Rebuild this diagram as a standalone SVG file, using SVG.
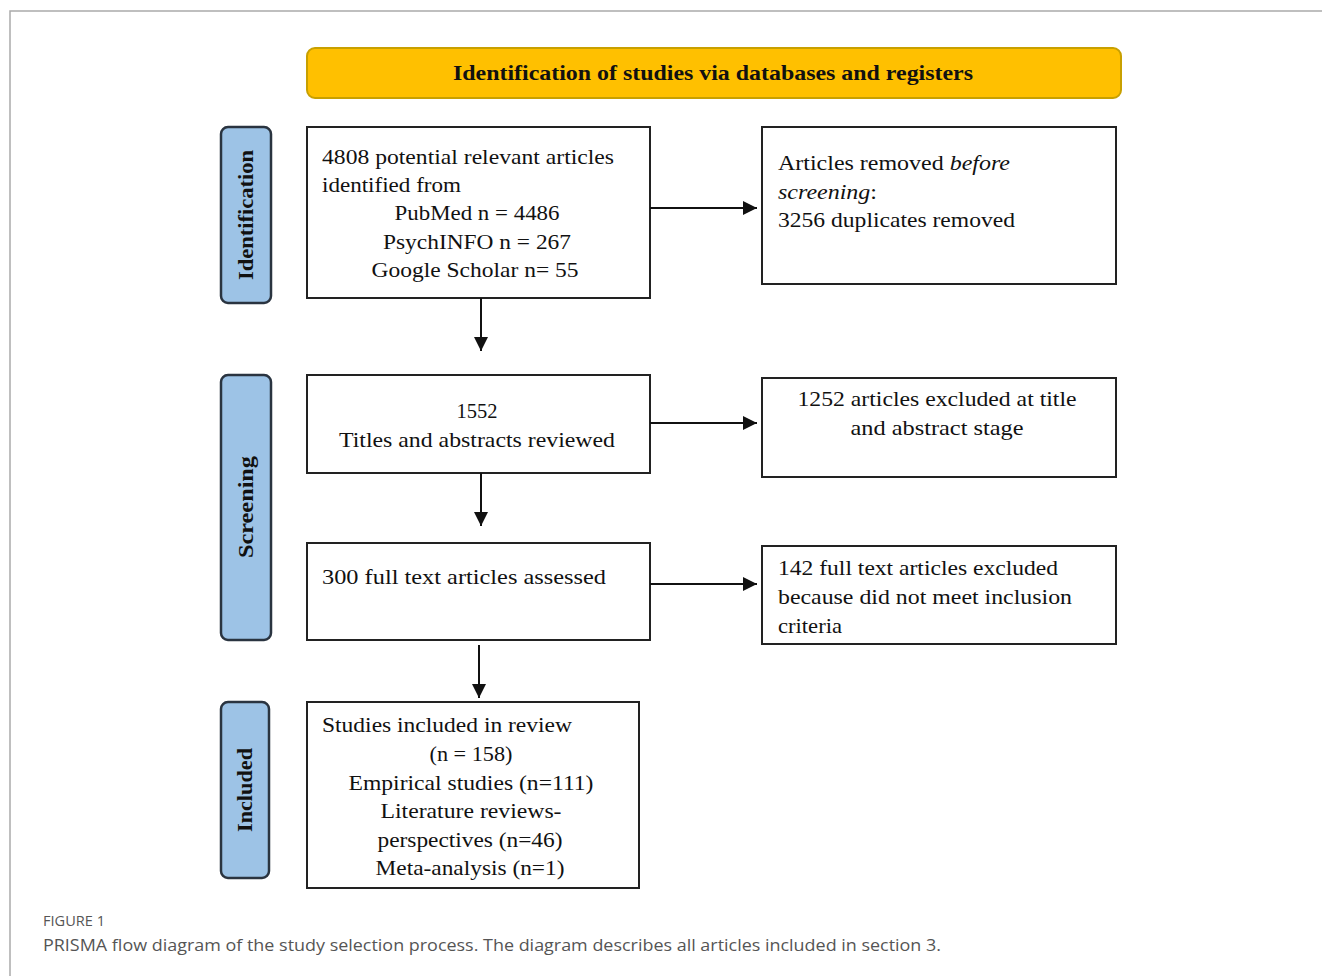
<svg xmlns="http://www.w3.org/2000/svg" width="1322" height="976" viewBox="0 0 1322 976">
<defs>
<style>
.box{fill:#fff;stroke:#222;stroke-width:2}
.side{fill:#9DC3E6;stroke:#2a3440;stroke-width:2.5}
.t{font-family:"Liberation Serif","Times New Roman",serif;font-size:22px;fill:#111}
.c{text-anchor:middle}
.sl{font-family:"Liberation Serif","Times New Roman",serif;font-size:21px;font-weight:bold;fill:#111;text-anchor:middle}
.conn{stroke:#111;stroke-width:2;fill:none}
</style>
<marker id="ah" viewBox="0 0 10 10" refX="10" refY="5" markerWidth="14" markerHeight="14" markerUnits="userSpaceOnUse" orient="auto">
<path d="M0,0 L10,5 L0,10 z" fill="#111"/>
</marker>
</defs>
<rect width="1322" height="976" fill="#fff"/>
<path d="M10,976 V11 H1322" fill="none" stroke="#aaa" stroke-width="1.5"/>

<g id="header">
<rect x="307" y="48" width="814" height="50" rx="8" fill="#FFC000" stroke="#C8A000" stroke-width="2"/>
<text x="713" y="80" class="t c" font-weight="bold" font-size="20" textLength="520" lengthAdjust="spacingAndGlyphs">Identification  of studies via databases and registers</text>
</g>

<g id="lbl-identification">
<rect x="221" y="127" width="50" height="176" rx="7" class="side"/>
<text transform="translate(253,215) rotate(-90)" class="sl" textLength="130" lengthAdjust="spacingAndGlyphs">Identification</text>
</g>
<g id="lbl-screening">
<rect x="221" y="375" width="50" height="265" rx="7" class="side"/>
<text transform="translate(253,507) rotate(-90)" class="sl" textLength="102" lengthAdjust="spacingAndGlyphs">Screening</text>
</g>
<g id="lbl-included">
<rect x="221" y="702" width="48" height="176" rx="7" class="side"/>
<text transform="translate(252,790) rotate(-90)" class="sl" textLength="84" lengthAdjust="spacingAndGlyphs">Included</text>
</g>

<g id="n-identified">
<rect x="307" y="127" width="343" height="171" class="box"/>
<text x="322" y="164" class="t" textLength="292" lengthAdjust="spacingAndGlyphs">4808  potential relevant articles</text>
<text x="322" y="192" class="t" textLength="139" lengthAdjust="spacingAndGlyphs">identified from</text>
<text x="477" y="220" class="t c" textLength="165" lengthAdjust="spacingAndGlyphs">PubMed n = 4486</text>
<text x="477" y="249" class="t c" textLength="188" lengthAdjust="spacingAndGlyphs">PsychINFO  n = 267</text>
<text x="475" y="277" class="t c" textLength="207" lengthAdjust="spacingAndGlyphs">Google  Scholar n= 55</text>
</g>

<g id="n-removed">
<rect x="762" y="127" width="354" height="157" class="box"/>
<text x="778" y="170" class="t" textLength="232" lengthAdjust="spacingAndGlyphs">Articles removed <tspan font-style="italic">before</tspan></text>
<text x="778" y="199" class="t" textLength="99" lengthAdjust="spacingAndGlyphs"><tspan font-style="italic">screening</tspan>:</text>
<text x="778" y="227" class="t" textLength="237" lengthAdjust="spacingAndGlyphs">3256  duplicates removed</text>
</g>

<g id="n-screened">
<rect x="307" y="375" width="343" height="98" class="box"/>
<text x="477" y="418" class="t c" textLength="41" lengthAdjust="spacingAndGlyphs">1552</text>
<text x="477" y="447" class="t c" textLength="276" lengthAdjust="spacingAndGlyphs">Titles  and abstracts reviewed</text>
</g>

<g id="n-excluded-title">
<rect x="762" y="378" width="354" height="99" class="box"/>
<text x="937" y="406" class="t c" textLength="279" lengthAdjust="spacingAndGlyphs">1252  articles  excluded  at title</text>
<text x="937" y="435" class="t c" textLength="173" lengthAdjust="spacingAndGlyphs">and abstract stage</text>
</g>

<g id="n-fulltext">
<rect x="307" y="543" width="343" height="97" class="box"/>
<text x="322" y="584" class="t" textLength="284" lengthAdjust="spacingAndGlyphs">300  full  text  articles  assessed</text>
</g>

<g id="n-excluded-full">
<rect x="762" y="546" width="354" height="98" class="box"/>
<text x="778" y="575" class="t" textLength="280" lengthAdjust="spacingAndGlyphs">142  full  text  articles  excluded</text>
<text x="778" y="604" class="t" textLength="294" lengthAdjust="spacingAndGlyphs">because did not meet  inclusion</text>
<text x="778" y="633" class="t" textLength="64" lengthAdjust="spacingAndGlyphs">criteria</text>
</g>

<g id="n-included">
<rect x="307" y="702" width="332" height="186" class="box"/>
<text x="322" y="732" class="t" textLength="250" lengthAdjust="spacingAndGlyphs">Studies included  in review</text>
<text x="471" y="761" class="t c" textLength="83" lengthAdjust="spacingAndGlyphs">(n = 158)</text>
<text x="471" y="790" class="t c" textLength="245" lengthAdjust="spacingAndGlyphs">Empirical   studies (n=111)</text>
<text x="471" y="818" class="t c" textLength="181" lengthAdjust="spacingAndGlyphs">Literature  reviews-</text>
<text x="470" y="847" class="t c" textLength="185" lengthAdjust="spacingAndGlyphs">perspectives (n=46)</text>
<text x="470" y="875" class="t c" textLength="189" lengthAdjust="spacingAndGlyphs">Meta-analysis (n=1)</text>
</g>

<g id="connectors">
<line x1="481" y1="298" x2="481" y2="351" class="conn" marker-end="url(#ah)"/>
<line x1="650" y1="208" x2="757" y2="208" class="conn" marker-end="url(#ah)"/>
<line x1="650" y1="423" x2="757" y2="423" class="conn" marker-end="url(#ah)"/>
<line x1="481" y1="473" x2="481" y2="526" class="conn" marker-end="url(#ah)"/>
<line x1="650" y1="584" x2="757" y2="584" class="conn" marker-end="url(#ah)"/>
<line x1="479" y1="645" x2="479" y2="698" class="conn" marker-end="url(#ah)"/>
</g>

<g id="caption">
<text x="43" y="926" font-family="'Open Sans','Noto Sans',sans-serif" font-size="14" fill="#555" textLength="62" lengthAdjust="spacingAndGlyphs">FIGURE 1</text>
<text x="43" y="951" font-family="'Open Sans','Noto Sans',sans-serif" font-size="17" fill="#555" textLength="898" lengthAdjust="spacingAndGlyphs">PRISMA flow diagram of the study selection process. The diagram describes all articles included in section 3.</text>
</g>
</svg>
